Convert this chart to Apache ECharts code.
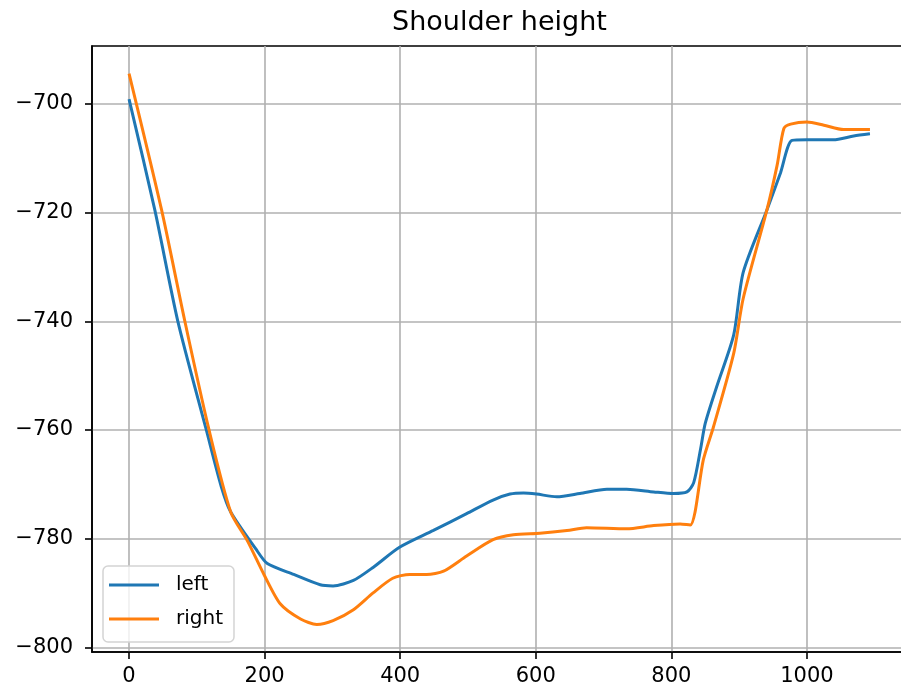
<!DOCTYPE html>
<html>
<head>
<meta charset="utf-8">
<script src="https://cdn.jsdelivr.net/npm/echarts@6/dist/echarts.min.js"></script>
<style>
html,body{margin:0;padding:0;background:#fff;}
#chart{width:901px;height:694px;}
</style>
</head>
<body>
<div id="chart"></div>
<script>
const titleText = 'Shoulder height';
const seriesNames = ['left', 'right'];
const xTicks = [0, 200, 400, 600, 800, 1000];
const yTicks = [-800, -780, -760, -740, -720, -700];

const leftX = [0, 38, 72, 114, 136, 150, 187, 204, 243, 282, 301, 331, 360, 399, 449, 498, 537, 562, 582, 601, 631, 665, 705, 734, 774, 803, 823, 833, 843, 850, 867, 892, 906, 941, 961, 978, 1000, 1039, 1069, 1093];
const leftY = [-699.1, -719.5, -740, -760, -770.4, -775.1, -781.9, -784.6, -786.6, -788.5, -788.7, -787.7, -785.3, -781.6, -778.5, -775.4, -772.9, -771.8, -771.6, -771.8, -772.3, -771.7, -770.9, -770.9, -771.4, -771.7, -771.4, -769.7, -763.6, -758.8, -752, -742.5, -731, -719.5, -712.7, -706.7, -706.6, -706.6, -705.9, -705.5];

const rightX = [0, 48, 82, 118, 150, 175, 199, 223, 253, 277, 301, 331, 360, 389, 414, 439, 464, 498, 537, 567, 606, 646, 675, 734, 774, 813, 828, 835, 847, 862, 892, 906, 941, 956, 966, 976, 1000, 1025, 1054, 1093];
const rightY = [-694.4, -719.5, -739.8, -760, -775.1, -780.5, -786.6, -792, -794.8, -795.8, -795.1, -793.1, -790, -787.3, -786.6, -786.6, -786, -783.2, -780.2, -779.3, -779, -778.5, -778, -778.2, -777.6, -777.3, -777.5, -775.1, -765.6, -759.5, -745.9, -735.8, -719.5, -711.3, -704.5, -703.7, -703.3, -703.9, -704.7, -704.7];

function pairs(xs, ys) { return xs.map((x, i) => [x, ys[i]]); }

const font = 'DejaVu Sans';
const chart = echarts.init(document.getElementById('chart'));
chart.setOption({
  animation: false,
  backgroundColor: '#ffffff',
  textStyle: { fontFamily: font },
  title: {
    text: titleText,
    left: 387,
    top: 4,
    textStyle: { fontFamily: font, fontSize: 27, fontWeight: 'normal', color: '#000' }
  },
  grid: {
    left: 92, width: 815, top: 46, bottom: 42,
    outerBoundsMode: 'none',
    containLabel: false,
    show: true, borderColor: '#000', borderWidth: 1.6, backgroundColor: 'transparent'
  },
  legend: {
    data: seriesNames,
    orient: 'vertical',
    icon: 'rect',
    left: 103, top: 566,
    itemWidth: 50, itemHeight: 3, itemGap: 10,
    padding: [7, 11, 11, 6],
    backgroundColor: 'rgba(255,255,255,0.8)',
    borderColor: '#d4d4d4', borderWidth: 1.5, borderRadius: 5,
    textStyle: { fontFamily: font, fontSize: 20, color: '#000', padding: [0, 0, 0, 12], lineHeight: 24 }
  },
  xAxis: {
    type: 'value',
    min: -54.65, max: 1147.65,
    axisLine: { show: true, onZero: false, lineStyle: { color: '#000', width: 1.6 } },
    axisTick: { show: true, length: 7, lineStyle: { color: '#000', width: 1.6 }, customValues: xTicks },
    axisLabel: { customValues: xTicks, fontFamily: font, fontSize: 21, color: '#000', margin: 14,
      formatter: v => String(v) },
    splitLine: { show: true, lineStyle: { color: '#b0b0b0', width: 1.6 } }
  },
  yAxis: {
    type: 'value',
    min: -800.87, max: -689.33,
    axisLine: { show: true, onZero: false, lineStyle: { color: '#000', width: 1.6 } },
    axisTick: { show: true, length: 7, lineStyle: { color: '#000', width: 1.6 }, customValues: yTicks },
    axisLabel: {
      customValues: yTicks, fontFamily: font, fontSize: 21, color: '#000', margin: 19,
      formatter: v => String(v).replace('-', '\u2212')
    },
    splitLine: { show: true, lineStyle: { color: '#b0b0b0', width: 1.6 } }
  },
  series: [
    {
      name: seriesNames[0], type: 'line', data: pairs(leftX, leftY),
      symbol: 'none', smooth: 0.25,
      lineStyle: { color: '#1f77b4', width: 3 }, itemStyle: { color: '#1f77b4' }
    },
    {
      name: seriesNames[1], type: 'line', data: pairs(rightX, rightY),
      symbol: 'none', smooth: 0.25,
      lineStyle: { color: '#ff7f0e', width: 3 }, itemStyle: { color: '#ff7f0e' }
    }
  ]
});
</script>
</body>
</html>
